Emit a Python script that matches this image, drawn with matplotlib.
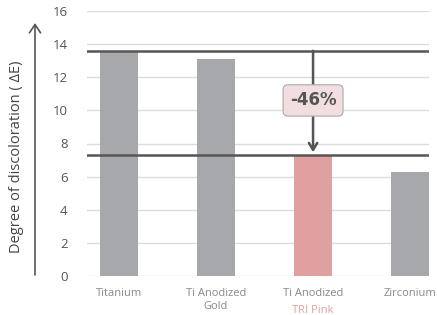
import matplotlib.pyplot as plt
from matplotlib.patches import FancyArrowPatch
from matplotlib import transforms

plt.rcParams["font.family"] = ["Open Sans", "DejaVu Sans"]

categories = ["Titanium", "Ti Anodized\nGold", "Ti Anodized", "Zirconium"]
values = [13.6, 13.1, 7.3, 6.3]
bar_colors = ["#a7a8ab", "#a7a8ab", "#e0a0a0", "#a7a8ab"]
highlight_label = "TRI Pink"
reduction = "-46%"
y_ticks = [0, 2, 4, 6, 8, 10, 12, 14, 16]

fig = plt.figure(figsize=(4.37, 3.15), dpi=100)
ax = fig.add_axes([87 / 437, 1 - 276 / 315, (429 - 87) / 437, 265 / 315])

x = list(range(len(categories)))
ax.bar(x, values, width=0.385, color=bar_colors, zorder=2)
ax.set_xlim(-0.33, 3.195)
ax.set_ylim(0, 16)
ax.set_yticks(y_ticks)
ax.set_yticklabels([str(t) for t in y_ticks])
for t in y_ticks:
    ax.axhline(t, color="#dcdcdc", lw=1, zorder=1)
for s in ax.spines.values():
    s.set_visible(False)
ax.tick_params(axis="y", length=0, pad=14, labelsize=9.5, labelcolor="#555555")
ax.tick_params(axis="x", length=0, pad=9, labelsize=8, labelcolor="#888888")
ax.set_xticks(x)
ax.set_xticklabels(categories, linespacing=1.15)

# second line of the highlighted label, in pink
trans = transforms.blended_transform_factory(ax.transData, ax.transAxes)
ax.text(2, -0.11, highlight_label, transform=trans, ha="center", va="top",
        fontsize=8, color="#e0a0a0")

# reference lines at the two compared values
ax.axhline(values[0], color="#555555", lw=1.8, zorder=3)
ax.axhline(values[2], color="#555555", lw=1.8, zorder=3)

arrow = FancyArrowPatch((2, values[0]), (2, values[2]), arrowstyle="->,head_length=5,head_width=3",
                        color="#555555", lw=1.8, zorder=4, shrinkA=0, shrinkB=2)
ax.add_patch(arrow)
ax.text(2, 10.6, reduction, ha="center", va="center", fontsize=12, fontweight="bold",
        family="DejaVu Sans", color="#555555", zorder=5,
        bbox=dict(boxstyle="round,pad=0.4,rounding_size=0.3", fc="#f2dede", ec="#aaaaaa", lw=0.8))

# y label with arrow
fig.text(17 / 437, 1 - 157 / 315, "Degree of discoloration ( ΔE)", rotation=90,
         ha="center", va="center", fontsize=10.5, color="#444444")
fig.add_artist(FancyArrowPatch((35 / 437, 1 - 275 / 315), (35 / 437, 1 - 23 / 315),
                               transform=fig.transFigure, arrowstyle="->,head_length=6,head_width=4",
                               color="#555555", lw=1.2, shrinkA=0, shrinkB=0))

fig.savefig("out.png", dpi=100)
